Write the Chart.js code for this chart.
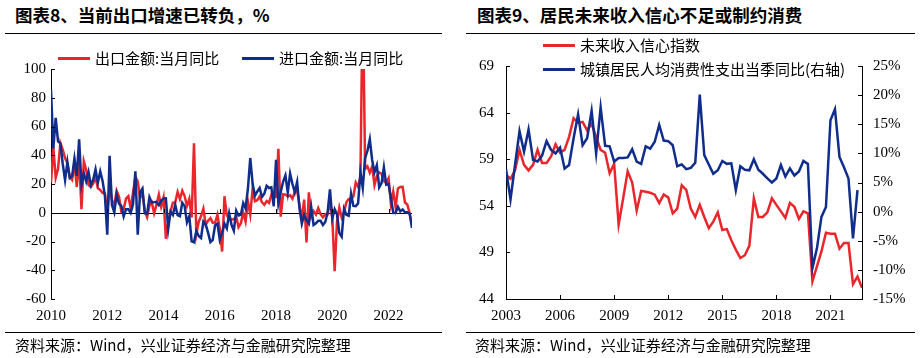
<!DOCTYPE html>
<html>
<head>
<meta charset="utf-8">
<script src="https://cdn.jsdelivr.net/npm/chart.js@4.4.0/dist/chart.umd.min.js"></script>
<style>
  body { margin: 0; width: 920px; height: 358px; background: #fff; position: relative; overflow: hidden;
         font-family: "Noto Sans CJK SC", sans-serif; color: #000; }
  .panel { position: absolute; top: 0; width: 460px; height: 358px; }
  .panel canvas { position: absolute; left: 0; top: 0; }
  .title { position: absolute; top: 4px; font-size: 17.5px; font-weight: 700; line-height: 22px; white-space: nowrap; }
  .rule { position: absolute; height: 1px; background: #000; }
  .legend-item { position: absolute; font-size: 15px; line-height: 18px; white-space: nowrap; }
  .legend-item i { display: inline-block; width: 32px; height: 3px; vertical-align: middle; margin-right: 5px; position: relative; top: -1px; }
  .source { position: absolute; top: 336px; font-size: 15px; line-height: 18px; white-space: nowrap; }
</style>
</head>
<body>
<div class="panel" style="left:0">
  <div class="title" style="left:15px">图表8、当前出口增速已转负，%</div>
  <div class="rule" style="left:5px; top:33px; width:437px"></div>
  <canvas id="tradeChart" width="460" height="358"></canvas>
  <div class="legend-item" style="left:58px; top:49px"><i style="background:#e8262b"></i>出口金额:当月同比</div>
  <div class="legend-item" style="left:242px; top:49px"><i style="background:#102d8c"></i>进口金额:当月同比</div>
  <div class="rule" style="left:5px; top:332px; width:437px"></div>
  <div class="source" style="left:15px">资料来源：Wind，兴业证券经济与金融研究院整理</div>
</div>
<div class="panel" style="left:460px">
  <div class="title" style="left:17px">图表9、居民未来收入信心不足或制约消费</div>
  <div class="rule" style="left:6px; top:33px; width:449px"></div>
  <canvas id="incomeChart" width="460" height="358"></canvas>
  <div class="legend-item" style="left:83px; top:36px"><i style="background:#e8262b"></i>未来收入信心指数</div>
  <div class="legend-item" style="left:83px; top:60px"><i style="background:#102d8c"></i>城镇居民人均消费性支出当季同比(右轴)</div>
  <div class="rule" style="left:6px; top:332px; width:449px"></div>
  <div class="source" style="left:15px">资料来源：Wind，兴业证券经济与金融研究院整理</div>
</div>

<script>
const red = '#e8262b';
const blue = '#102d8c';
const tickFont = { family: 'Liberation Serif', size: 15 };

// Chart 8: monthly, Jan 2010 .. Nov 2022 (%)
const tradeStart = 2010;
const exportYoY = [
  21.0, 45.7, 24.3, 30.5, 48.5, 43.9, 38.1, 34.4, 25.1, 22.9, 34.9, 17.9,
  37.7, 2.4, 35.8, 29.9, 19.4, 17.9, 20.4, 24.5, 17.1, 15.9, 13.8, 13.4,
  -0.5, 18.4, 8.9, 4.9, 15.3, 11.3, 1.0, 2.7, 9.9, 11.6, 2.9, 14.1,
  25.0, 21.8, 10.0, 14.7, 1.0, -3.1, 5.1, 7.2, -0.3, 5.6, 12.7, 4.3,
  10.6, -18.1, -6.6, 0.9, 7.0, 7.2, 14.5, 9.4, 15.3, 11.6, 4.7, 9.7,
  -3.3, 48.3, -15.0, -6.4, -2.5, 2.8, -8.3, -5.5, -3.7, -6.9, -6.8, -1.4,
  -11.2, -27.0, 11.5, -1.8, -4.1, -4.8, -4.4, -2.8, -10.0, -7.3, 0.1, -6.1,
  7.9, -1.3, 16.4, 8.0, 8.7, 11.3, 7.2, 5.5, 8.1, 6.9, 12.3, 10.9,
  11.1, 44.5, -2.7, 12.9, 12.6, 11.3, 12.2, 9.8, 14.5, 15.6, 5.4, -4.4,
  9.1, -20.7, 14.2, -2.7, 1.1, -1.3, 3.3, -1.0, -3.2, -0.9, -1.1, 7.6,
  -3.5, -40.6, -6.6, 3.5, -3.3, 0.5, 7.2, 9.5, 9.9, 11.4, 21.1, 18.1,
  24.9, 154.9, 30.6, 32.3, 27.9, 32.2, 19.3, 25.6, 28.1, 27.1, 22.0, 20.9,
  24.1, 6.2, 14.7, 3.9, 16.9, 17.9, 18.0, 7.1, 5.7, -0.3, -8.7
];
const importYoY = [
  85.5, 44.7, 66.0, 49.7, 48.3, 34.1, 22.7, 35.2, 24.1, 25.3, 37.7, 25.6,
  51.0, 19.4, 27.3, 21.8, 28.4, 19.3, 22.9, 30.2, 20.9, 28.7, 22.1, 11.8,
  -15.3, 39.6, 5.3, 0.3, 12.7, 6.3, 4.7, -2.6, 2.4, 2.4, 0.0, 6.0,
  28.8, -15.2, 14.1, 16.8, -0.3, -0.7, 10.9, 7.0, 7.4, 7.6, 5.3, 8.3,
  10.0, 10.1, -11.3, 0.8, -1.6, 5.5, -1.6, -2.4, 7.0, 4.6, -6.7, -2.4,
  -19.9, -20.5, -12.7, -16.2, -17.6, -6.1, -8.1, -13.8, -20.4, -18.8, -8.7, -7.6,
  -18.8, -13.8, -7.6, -10.9, -0.4, -8.4, -12.5, 1.5, -1.9, -1.4, 6.7, 3.1,
  16.7, 38.1, 20.3, 11.9, 14.8, 17.2, 11.0, 13.3, 18.7, 17.2, 17.7, 4.5,
  36.9, 6.3, 14.4, 21.5, 26.0, 14.1, 27.3, 20.0, 14.3, 21.4, 3.0, -7.6,
  -1.5, -5.2, -7.6, 4.0, -8.5, -7.3, -5.6, -5.6, -8.5, -6.4, 0.3, 16.3,
  -4.0, 2.5, -0.9, -14.2, -16.7, 2.7, -1.4, -2.1, 13.2, 4.7, 4.5, 6.5,
  28.0, 17.3, 38.1, 43.1, 51.1, 36.7, 28.1, 33.1, 17.6, 20.6, 31.7, 19.5,
  20.0, 10.4, -0.1, 0.0, 4.1, 1.0, 2.3, 0.3, 0.3, -0.7, -10.6
];
const tradeYearTicks = [2010, 2012, 2014, 2016, 2018, 2020, 2022];
const tradeValueTicks = [-60, -40, -20, 0, 20, 40, 60, 80, 100];

// Chart 9: quarterly, 2003Q1 onward
const incomeStart = 2003;
const incomeConfidence = [
  57.3, 56.9, 57.8, 60.0, 58.4, 57.8, 58.4, 60.0, 58.6, 58.6, 59.3, 60.6,
  59.7, 60.0, 61.4, 63.4, 62.9, 63.0, 62.1, 62.8, 61.4, 60.0, 59.7, 57.5,
  58.5, 52.0, 54.8, 57.7, 56.5, 53.5, 55.6, 55.5, 55.4, 55.2, 54.3, 55.2,
  54.9, 53.2, 53.7, 56.2, 55.7, 53.7, 52.8, 54.1, 52.8, 51.6, 52.3, 53.3,
  51.4, 51.5, 50.3, 49.3, 48.4, 48.7, 49.7, 54.8, 52.8, 52.8, 53.3, 54.8,
  54.1, 53.4, 52.7, 54.3, 53.9, 52.6, 53.4, 53.2, 45.9, 47.5, 49.1, 51.1,
  51.0, 51.0, 49.4, 50.0, 50.0, 45.6, 46.4, 45.2
];
const urbanSpendingYoY = [
  7.3, 2.1, 8.0, 13.8, 10.3, 14.1, 8.9, 8.6, 9.6, 12.1, 10.6, 10.0,
  11.0, 7.4, 8.0, 12.6, 16.7, 11.4, 12.6, 17.3, 10.0, 17.9, 11.3, 11.2,
  8.6, 9.2, 9.2, 9.3, 10.7, 8.6, 8.2, 11.2, 10.8, 12.0, 14.9, 12.2,
  12.1, 11.4, 7.8, 8.1, 7.3, 7.5, 8.4, 20.1, 9.7, 8.1, 6.5, 7.1,
  8.7, 8.2, 8.3, 3.7, 7.8, 7.2, 7.1, 9.0, 7.2, 6.5, 5.7, 5.0,
  5.7, 8.0, 6.0, 7.4, 6.2, 6.9, 8.7, 8.2, -9.7, -6.3, -0.9, 0.8,
  15.7, 17.6, 9.4, 7.6, 5.7, -4.6, 3.7
];
const incomeYearTicks = [2003, 2006, 2009, 2012, 2015, 2018, 2021];
const confidenceTicks = [44, 49, 54, 59, 64, 69];
const spendingTicks = [-15, -10, -5, 0, 5, 10, 15, 20, 25];

const toPoints = (values, start, perYear) => values.map((v, i) => ({ x: start + i / perYear, y: v }));
const fixedTicks = list => scale => { scale.ticks = list.map(v => ({ value: v })); };

// small inward tick marks, plus an optional zero line carrying the x ticks
const axisMarks = {
  id: 'axisMarks',
  beforeDatasetsDraw(chart, args, opts) {
    if (!opts.zeroLine) return;
    const ctx = chart.ctx, a = chart.chartArea;
    const y0 = Math.round(chart.scales.y.getPixelForValue(0)) + 0.5;
    ctx.save();
    ctx.strokeStyle = '#000';
    ctx.lineWidth = 1;
    ctx.beginPath();
    ctx.moveTo(a.left, y0);
    ctx.lineTo(a.right, y0);
    ctx.stroke();
    ctx.restore();
  },
  afterDraw(chart, args, opts) {
    const ctx = chart.ctx, a = chart.chartArea;
    ctx.save();
    ctx.strokeStyle = '#000';
    ctx.lineWidth = 1;
    ctx.beginPath();
    Object.values(chart.scales).forEach(s => {
      if (s.isHorizontal()) {
        const base = opts.zeroLine ? Math.round(chart.scales.y.getPixelForValue(0)) : a.bottom;
        s.ticks.forEach(t => {
          const px = Math.round(s.getPixelForValue(t.value)) + 0.5;
          ctx.moveTo(px, base);
          ctx.lineTo(px, base - 4);
        });
      } else {
        const edge = s.position === 'right' ? a.right : a.left;
        const dir = s.position === 'right' ? -1 : 1;
        s.ticks.forEach(t => {
          const py = Math.round(s.getPixelForValue(t.value)) + 0.5;
          ctx.moveTo(edge, py);
          ctx.lineTo(edge + dir * 4, py);
        });
      }
    });
    ctx.stroke();
    ctx.restore();
  }
};

const baseLine = { borderWidth: 2.5, pointRadius: 0, tension: 0, fill: false };

new Chart(document.getElementById('tradeChart'), {
  type: 'line',
  data: {
    datasets: [
      { ...baseLine, label: '出口金额:当月同比', data: toPoints(exportYoY, tradeStart, 12), borderColor: red, order: 2 },
      { ...baseLine, label: '进口金额:当月同比', data: toPoints(importYoY, tradeStart, 12), borderColor: blue, order: 1 }
    ]
  },
  options: {
    responsive: false,
    animation: false,
    layout: { padding: { top: 69, right: 48, bottom: 29, left: 0 } },
    plugins: { legend: { display: false }, tooltip: { enabled: false }, axisMarks: { zeroLine: true } },
    scales: {
      x: {
        type: 'linear',
        min: tradeStart,
        max: tradeStart + (exportYoY.length - 1) / 12,
        afterBuildTicks: fixedTicks(tradeYearTicks),
        afterFit: s => { s.height = 30; },
        grid: { display: false, drawTicks: false },
        border: { display: false },
        ticks: { font: tickFont, color: '#000', padding: 8, maxRotation: 0, autoSkip: false, callback: v => String(v) }
      },
      y: {
        min: -60,
        max: 100,
        afterBuildTicks: fixedTicks(tradeValueTicks),
        afterFit: s => { s.width = 51; },
        grid: { display: false, drawTicks: false },
        border: { display: true, color: '#000', width: 1 },
        ticks: { font: tickFont, color: '#000', padding: 5 }
      }
    }
  },
  plugins: [axisMarks]
});

new Chart(document.getElementById('incomeChart'), {
  type: 'line',
  data: {
    datasets: [
      { ...baseLine, label: '未来收入信心指数', data: toPoints(incomeConfidence, incomeStart, 4), borderColor: red, yAxisID: 'y', order: 2 },
      { ...baseLine, label: '城镇居民人均消费性支出当季同比(右轴)', data: toPoints(urbanSpendingYoY, incomeStart, 4), borderColor: blue, yAxisID: 'y1', order: 1 }
    ]
  },
  options: {
    responsive: false,
    animation: false,
    layout: { padding: { top: 66, right: 0, bottom: 29, left: 0 } },
    plugins: { legend: { display: false }, tooltip: { enabled: false }, axisMarks: { zeroLine: false } },
    scales: {
      x: {
        type: 'linear',
        min: incomeStart,
        max: incomeStart + (incomeConfidence.length - 1) / 4,
        afterBuildTicks: fixedTicks(incomeYearTicks),
        afterFit: s => { s.height = 30; },
        grid: { display: false, drawTicks: false },
        border: { display: true, color: '#000', width: 1 },
        ticks: { font: tickFont, color: '#000', padding: 8, maxRotation: 0, autoSkip: false, callback: v => String(v) }
      },
      y: {
        position: 'left',
        min: 44,
        max: 69,
        afterBuildTicks: fixedTicks(confidenceTicks),
        afterFit: s => { s.width = 46; },
        grid: { display: false, drawTicks: false },
        border: { display: true, color: '#000', width: 1 },
        ticks: { font: tickFont, color: '#000', padding: 12 }
      },
      y1: {
        position: 'right',
        min: -15,
        max: 25,
        afterBuildTicks: fixedTicks(spendingTicks),
        afterFit: s => { s.width = 58; },
        grid: { display: false, drawTicks: false },
        border: { display: true, color: '#000', width: 1 },
        ticks: { font: tickFont, color: '#000', padding: 11, callback: v => v + '%' }
      }
    }
  },
  plugins: [axisMarks]
});
</script>
</body>
</html>
